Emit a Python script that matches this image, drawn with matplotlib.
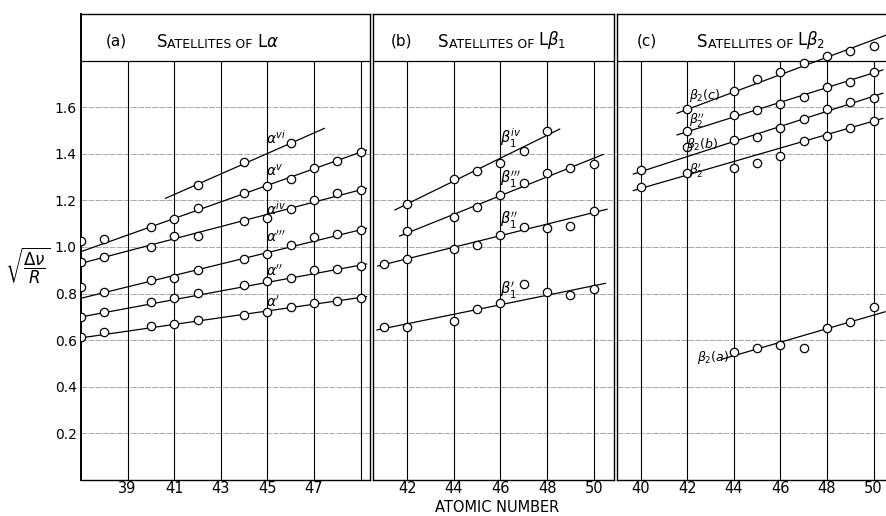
import numpy as np
import matplotlib.pyplot as plt

# ---- data (sqrt(dnu/R) vs atomic number) ----

# (a) satellites of L alpha
z_a = [37, 38, 40, 41, 42, 44, 45, 46, 47, 48, 49]
alpha_1 = [0.612, 0.634, 0.661, 0.668, 0.687, 0.710, 0.722, 0.741, 0.761, 0.767, 0.782]
alpha_2 = [0.700, 0.722, 0.765, 0.782, 0.804, 0.837, 0.854, 0.868, 0.901, 0.904, 0.920]
alpha_3 = [0.827, 0.808, 0.857, 0.868, 0.900, 0.950, 0.970, 1.010, 1.044, 1.057, 1.073]
alpha_4 = [0.934, 0.958, 0.999, 1.047, 1.047, 1.112, 1.123, 1.163, 1.200, 1.232, 1.245]
alpha_5 = [1.026, 1.034, 1.087, 1.120, 1.166, 1.233, 1.260, 1.293, 1.339, 1.370, 1.408]
z_a6 = [42, 44, 46]
alpha_6 = [1.267, 1.363, 1.445]

# straight lines drawn through them (end points as read)
line_z_a = [37, 49.25]
line_a1 = [0.610, 0.787]
line_a2 = [0.700, 0.927]
line_a3 = [0.780, 1.080]
line_a4 = [0.930, 1.252]
line_a5 = [0.980, 1.416]
line_z_a6 = [40.63, 47.44]
line_a6 = [1.209, 1.509]

# (b) satellites of L beta1
z_b = [41, 42, 44, 45, 46, 47, 48, 49, 50]
beta1_1 = [0.655, 0.658, 0.681, 0.734, 0.758, 0.841, 0.806, 0.793, 0.818]
beta1_2 = [0.927, 0.950, 0.993, 1.007, 1.050, 1.087, 1.080, 1.092, 1.156]
z_b3 = [42, 44, 45, 46, 47, 48, 49, 50]
beta1_3 = [1.067, 1.130, 1.173, 1.223, 1.273, 1.319, 1.338, 1.356]
z_b4 = [42, 44, 45, 46, 47, 48]
beta1_4 = [1.185, 1.292, 1.328, 1.362, 1.410, 1.498]

line_z_b1 = [40.70, 50.50]
line_b1 = [0.644, 0.844]
line_z_b2 = [40.73, 50.57]
line_b2 = [0.918, 1.162]
line_z_b3 = [41.67, 50.40]
line_b3 = [1.047, 1.397]
line_z_b4 = [41.47, 48.54]
line_b4 = [1.159, 1.506]

# (c) satellites of L beta2
z_c = [40, 42, 44, 45, 46, 47, 48, 49, 50]
beta2_p = [1.259, 1.319, 1.340, 1.362, 1.390, 1.456, 1.476, 1.509, 1.541]
beta2_b = [1.330, 1.430, 1.459, 1.473, 1.512, 1.548, 1.592, 1.621, 1.641]
z_c2 = [42, 44, 45, 46, 47, 48, 49, 50]
beta2_pp = [1.498, 1.567, 1.588, 1.614, 1.645, 1.685, 1.710, 1.752]
beta2_c = [1.591, 1.671, 1.720, 1.750, 1.791, 1.820, 1.843, 1.863]
z_ca = [44, 45, 46, 47, 48, 49, 50]
beta2_a = [0.551, 0.565, 0.579, 0.565, 0.651, 0.677, 0.741]

line_z_cp = [39.67, 50.40]
line_cp = [1.242, 1.552]
line_cb = [1.313, 1.660]
line_z_cpp = [41.55, 50.40]
line_cpp = [1.481, 1.760]
line_z_cc = [41.55, 50.75]
line_cc = [1.574, 1.917]
line_z_ca = [43.50, 50.50]
line_ca = [0.519, 0.722]

ygrid = [0.2, 0.4, 0.6, 0.8, 1.0, 1.2, 1.4, 1.6]

# ---- figure ----
fig = plt.figure(figsize=(8.87, 5.16), dpi=100)
H = 516.0
W = 887.0
bot = 1 - 480 / H
hgt = (480 - 14) / H
ax_a = fig.add_axes([81 / W, bot, (370 - 81) / W, hgt])
ax_b = fig.add_axes([373 / W, bot, (614 - 373) / W, hgt])
ax_c = fig.add_axes([617 / W, bot, (887 - 617) / W, hgt])


def setup(ax, xlim, gridx, xticks):
    ax.set_xlim(*xlim)
    ax.set_ylim(0, 2.0)
    ax.hlines(ygrid, xlim[0], xlim[1], colors='#9a9a9a', lw=0.6,
              linestyles=(0, (7, 1.5)), zorder=1)
    ax.axhline(1.8, color='k', lw=0.9, zorder=2)
    ax.vlines(gridx, 0, 1.8, colors='k', lw=0.8, zorder=1)
    ax.set_xticks(xticks)
    ax.set_xticklabels([str(t) for t in xticks], fontsize=10.5)
    ax.set_yticks([])
    ax.tick_params(length=0, pad=1)
    for s in ax.spines.values():
        s.set_linewidth(1.0)


def series(ax, z, v, lz, lv):
    ax.plot(lz, lv, color='k', lw=0.9, zorder=3)
    ax.plot(z, v, 'o', ms=6, mfc='white', mec='k', mew=0.9, zorder=4)


def title(ax, x_letter, x_text, letter, greek):
    ax.text(x_letter, 1.885, '(' + letter + ')', fontsize=11, va='center')
    t = ax.text(x_text, 1.86, 'S', fontsize=12, va='baseline')
    t = ax.annotate('ATELLITES OF ', xy=(1, 0), xycoords=t, fontsize=9,
                    va='bottom')
    ax.annotate('L' + greek, xy=(1, 0), xycoords=t, fontsize=12,
                va='bottom')


# (a)
setup(ax_a, (37, 49.4), [39, 41, 43, 45, 47, 49], [39, 41, 43, 45, 47])
ax_a.set_yticks(ygrid)
ax_a.set_yticklabels(['%.1f' % y for y in ygrid], fontsize=10)
ax_a.tick_params(axis='y', pad=3)
ax_a.spines['left'].set_linewidth(1.4)
series(ax_a, z_a, alpha_1, line_z_a, line_a1)
series(ax_a, z_a, alpha_2, line_z_a, line_a2)
series(ax_a, z_a, alpha_3, line_z_a, line_a3)
series(ax_a, z_a, alpha_4, line_z_a, line_a4)
series(ax_a, z_a, alpha_5, line_z_a, line_a5)
series(ax_a, z_a6, alpha_6, line_z_a6, line_a6)
for lab, y in [(r"$\alpha^{vi}$", 1.47), (r"$\alpha^{v}$", 1.33),
               (r"$\alpha^{iv}$", 1.165), (r"$\alpha'''$", 1.04),
               (r"$\alpha''$", 0.897), (r"$\alpha'$", 0.764)]:
    ax_a.text(44.95, y, lab, fontsize=10, va='center', ha='left', zorder=5)
title(ax_a, 38.07, 40.26, 'a', r'$\alpha$')

# (b)
setup(ax_b, (40.53, 50.87), [42, 44, 46, 48, 50], [42, 44, 46, 48, 50])
series(ax_b, z_b, beta1_1, line_z_b1, line_b1)
series(ax_b, z_b, beta1_2, line_z_b2, line_b2)
series(ax_b, z_b3, beta1_3, line_z_b3, line_b3)
series(ax_b, z_b4, beta1_4, line_z_b4, line_b4)
for lab, y in [(r"$\beta_1^{iv}$", 1.468), (r"$\beta_1'''$", 1.288),
               (r"$\beta_1''$", 1.116), (r"$\beta_1'$", 0.815)]:
    ax_b.text(46.0, y, lab, fontsize=10.5, va='center', ha='left', zorder=5)
title(ax_b, 41.29, 43.32, 'b', r'$\beta_1$')

# (c)
setup(ax_c, (38.97, 50.58), [40, 42, 44, 46, 48, 50], [40, 42, 44, 46, 48, 50])
ax_c.spines['right'].set_visible(False)
series(ax_c, z_c, beta2_p, line_z_cp, line_cp)
series(ax_c, z_c, beta2_b, line_z_cp, line_cb)
series(ax_c, z_c2, beta2_pp, line_z_cpp, line_cpp)
series(ax_c, z_c2, beta2_c, line_z_cc, line_cc)
series(ax_c, z_ca, beta2_a, line_z_ca, line_ca)
for lab, x, y in [(r"$\beta_2(c)$", 42.08, 1.652), (r"$\beta_2''$", 42.05, 1.545),
                  (r"$\beta_2(b)$", 41.95, 1.438), (r"$\beta_2'$", 42.05, 1.33),
                  (r"$\beta_2(a)$", 42.4, 0.524)]:
    ax_c.text(x, y, lab, fontsize=9, va='center', ha='left', zorder=5)
title(ax_c, 39.84, 42.42, 'c', r'$\beta_2$')

fig.text(497.5 / W, 1 - 508 / H, 'ATOMIC NUMBER', ha='center', va='center',
         fontsize=10.5)
fig.text(28 / W, 1 - 266 / H, r'$\sqrt{\dfrac{\Delta\nu}{R}}$', ha='center',
         va='center', fontsize=12)

fig.savefig('out.png', dpi=100)
